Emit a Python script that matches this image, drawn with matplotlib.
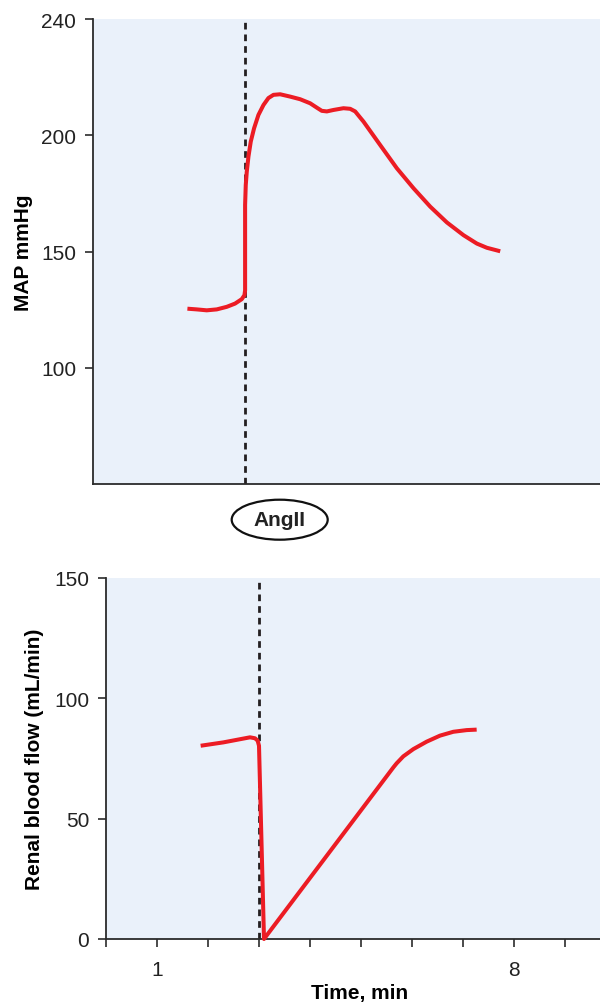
import numpy as np
import matplotlib
matplotlib.use("Agg")
import matplotlib.pyplot as plt
from matplotlib.patches import Ellipse

plt.rcParams['font.family'] = ['Liberation Sans', 'DejaVu Sans']

# ---- data ----
map_time = [1.862, 2.046, 2.243, 2.441, 2.638, 2.802, 2.934, 2.987, 3.0, 3.0, 3.013, 3.033,
            3.066, 3.112, 3.177, 3.263, 3.362, 3.460, 3.559, 3.691, 3.888, 4.085, 4.283,
            4.414, 4.513, 4.612, 4.743, 4.940, 5.072, 5.171, 5.269, 5.335, 5.664, 5.993,
            6.322, 6.651, 6.980, 7.309, 7.572, 7.769, 8.032]
map_value = [125.4, 125.1, 124.7, 125.1, 126.2, 127.6, 129.5, 131.2, 133.3, 170.0, 178.6,
             184.3, 190.8, 197.3, 202.4, 207.0, 210.4, 212.8, 213.9, 214.1, 213.3, 212.4,
             211.0, 209.5, 208.4, 208.2, 208.7, 209.3, 209.1, 208.2, 206.1, 204.7, 195.8,
             185.8, 177.2, 169.3, 162.5, 157.0, 153.4, 151.6, 150.1]

rbf_time = [1.856, 2.301, 2.824, 2.922, 2.974, 3.0, 3.098, 5.634, 5.699, 5.830, 6.026,
            6.288, 6.549, 6.810, 7.072, 7.268]
rbf_value = [80.3, 81.7, 83.8, 83.4, 82.4, 80.3, 0.0, 71.3, 73.0, 75.9, 78.9, 82.0,
             84.5, 86.1, 86.8, 87.0]

angii_time = 3.0

map_ticks = [100, 150, 200, 240]
map_tick_labels = ['100', '150', '200', '240']
map_breaks = [50, 100, 150, 200, 240]   # equally spaced on the drawing

rbf_ticks = [0, 50, 100, 150]
time_ticks = list(range(0, 10))
time_tick_labels = ['', '1', '', '', '', '', '', '', '8', '']

# ---- style ----
RED = '#ec1c24'
BG = '#eaf1fa'
DARK = '#2b2b2b'
FS = 15

fig = plt.figure(figsize=(6.0, 10.03), dpi=100)

pos = list(range(len(map_breaks)))
def fwd(v):
    return np.interp(v, map_breaks, pos)
def inv(p):
    return np.interp(p, pos, map_breaks)

ax1 = fig.add_axes([93/600, 1-485/1003, 1-93/600, (485-20)/1003])
ax2 = fig.add_axes([106/600, 1-940/1003, 1-106/600, (940-579)/1003])

for ax in (ax1, ax2):
    ax.set_facecolor(BG)
    for s in ('top', 'right'):
        ax.spines[s].set_visible(False)
    for s in ('left', 'bottom'):
        ax.spines[s].set_color(DARK)
        ax.spines[s].set_linewidth(1.3)
    ax.tick_params(axis='both', colors=DARK, labelcolor='#222222', labelsize=FS,
                   length=6, width=1.2, pad=6, direction='out')

# top panel
ax1.set_yscale('function', functions=(fwd, inv))
ax1.set_xlim(0, 10)
ax1.set_ylim(50, 240)
ax1.set_yticks(map_ticks)
ax1.set_yticklabels(map_tick_labels)
ax1.set_xticks([])
ax1.yaxis.set_minor_locator(matplotlib.ticker.NullLocator())
ax1.plot(map_time, map_value, color=RED, lw=2.9, solid_capstyle='butt',
         solid_joinstyle='round', zorder=3)
ax1.axvline(angii_time, color='#231f20', lw=2.0, linestyle=(0, (2.4, 1.8)), zorder=2)
ax1.set_ylabel('MAP mmHg', fontsize=FS, fontweight='bold')
ax1.yaxis.set_label_coords(-(93-33)/507, 0.5)

# bottom panel
ax2.set_xlim(0, (600-106)/51)
ax2.set_ylim(0, 150)
ax2.set_yticks(rbf_ticks)
ax2.set_xticks(time_ticks)
ax2.set_xticklabels(time_tick_labels)
ax2.tick_params(axis='x', pad=9)
ax2.plot(rbf_time, rbf_value, color=RED, lw=2.9, solid_capstyle='butt',
         solid_joinstyle='round', zorder=3, clip_on=False)
ax2.axvline(angii_time, color='#231f20', lw=2.0, linestyle=(0, (2.4, 1.8)), zorder=2)
ax2.set_ylabel('Renal blood flow (mL/min)', fontsize=FS, fontweight='bold')
ax2.yaxis.set_label_coords(-(106-44)/494, 0.5)
ax2.set_xlabel('Time, min', fontsize=FS, fontweight='bold', va='baseline')
ax2.xaxis.set_label_coords((360-106)/494, -(999-940)/361)

# AngII ellipse label
ell = Ellipse((279.7/600, 1-520.7/1003), 96/600, 40/1003, transform=fig.transFigure,
              facecolor='white', edgecolor='#111111', lw=1.6)
fig.add_artist(ell)
fig.text(279.7/600, 1-521/1003, 'AngII', ha='center', va='center', fontsize=FS,
         fontweight='bold', color='#222222')

fig.savefig('out.png', dpi=100)
